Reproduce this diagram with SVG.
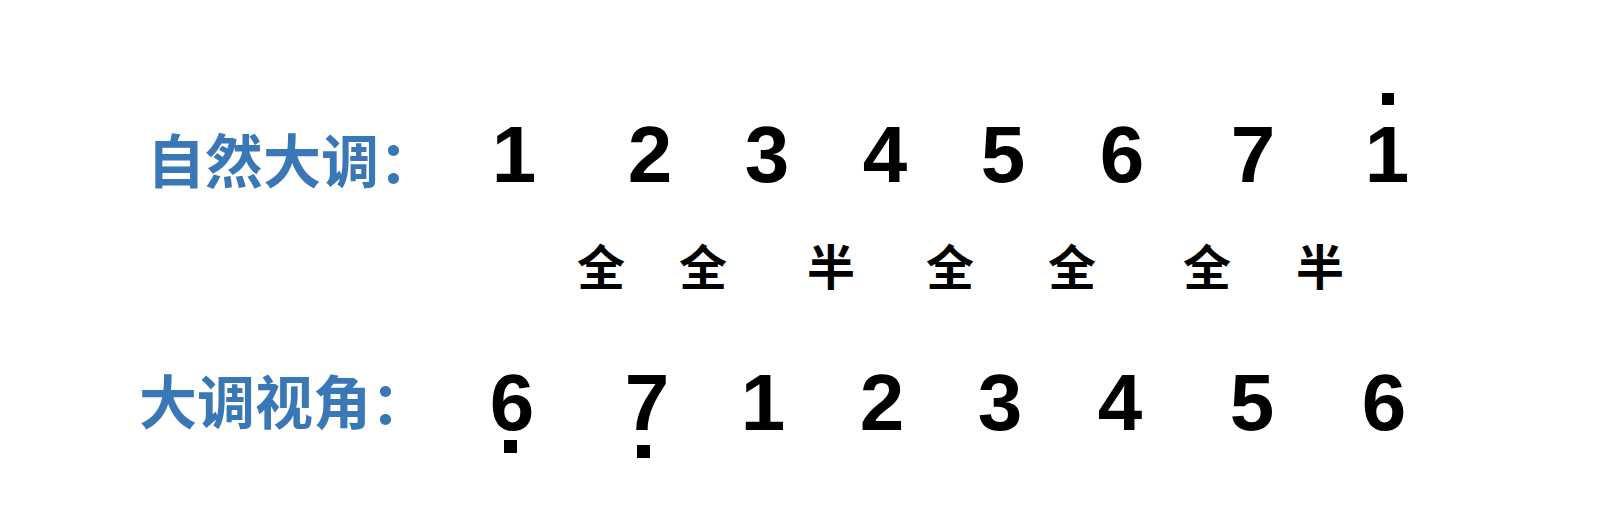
<svg xmlns="http://www.w3.org/2000/svg" width="1614" height="522" viewBox="0 0 1614 522">
<style>
.lbl{font-family:"Noto Sans CJK SC","Noto Sans",sans-serif;font-size:58px;font-weight:700;fill:#3a77b7}
.num{font-family:"Liberation Sans",Arial,sans-serif;font-size:80px;font-weight:700;fill:#000;text-anchor:middle}
.step{font-family:"Noto Sans CJK SC","Noto Sans",sans-serif;font-size:48px;font-weight:700;fill:#000;text-anchor:middle}
.dot{fill:#000}
</style>
<rect width="1614" height="522" fill="#fff"/>
<g id="label-natural-major"><text class="lbl" x="147" y="183">自然大调：</text></g>
<g id="row-natural-major">
<text class="num" x="514" y="182">1</text>
<text class="num" x="650" y="182">2</text>
<text class="num" x="767" y="182">3</text>
<text class="num" x="885" y="182">4</text>
<text class="num" x="1003" y="182">5</text>
<text class="num" x="1122" y="182">6</text>
<text class="num" x="1253" y="182">7</text>
<text class="num" x="1387" y="182">1</text>
<rect class="dot" x="1382" y="93" width="12" height="12"/>
</g>
<g id="row-steps">
<text class="step" x="601" y="285">全</text>
<text class="step" x="703" y="285">全</text>
<text class="step" x="831" y="285">半</text>
<text class="step" x="950" y="285">全</text>
<text class="step" x="1072" y="285">全</text>
<text class="step" x="1207" y="285">全</text>
<text class="step" x="1320" y="285">半</text>
</g>
<g id="label-major-view"><text class="lbl" x="139" y="424">大调视角：</text></g>
<g id="row-major-view">
<text class="num" x="512" y="430">6</text>
<rect class="dot" x="504" y="440" width="13" height="13"/>
<text class="num" x="647" y="430">7</text>
<rect class="dot" x="637" y="445" width="13" height="13"/>
<text class="num" x="763" y="430">1</text>
<text class="num" x="882" y="430">2</text>
<text class="num" x="1000" y="430">3</text>
<text class="num" x="1120" y="430">4</text>
<text class="num" x="1252" y="430">5</text>
<text class="num" x="1384" y="430">6</text>
</g>
</svg>
